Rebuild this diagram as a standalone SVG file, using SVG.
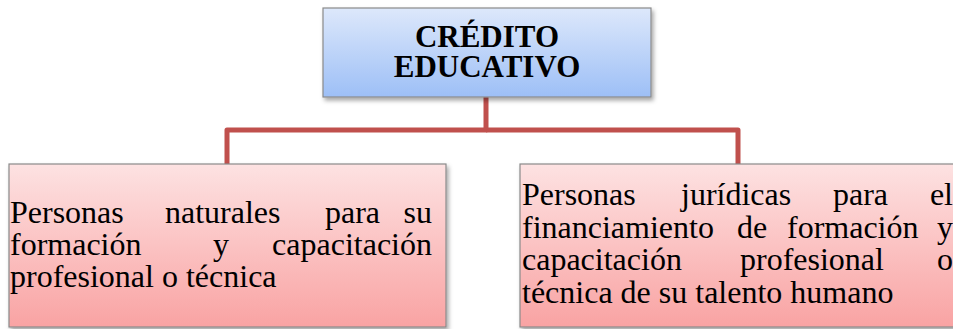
<svg xmlns="http://www.w3.org/2000/svg" width="953" height="329" viewBox="0 0 953 329">
<defs>
<linearGradient id="gBlue" x1="0" y1="0" x2="0" y2="1">
<stop offset="0" stop-color="#dde8fb"/>
<stop offset="1" stop-color="#9dbff6"/>
</linearGradient>
<linearGradient id="gPink" x1="0" y1="0" x2="0" y2="1">
<stop offset="0" stop-color="#fde2e2"/>
<stop offset="1" stop-color="#f9a3a3"/>
</linearGradient>
<filter id="sh" x="-5%" y="-10%" width="115%" height="130%">
<feDropShadow dx="2" dy="3" stdDeviation="2" flood-color="#000" flood-opacity="0.35"/>
</filter>
</defs>
<style>
.box{stroke:#8a8a8a;stroke-width:1.2;filter:url(#sh)}
.title{font-family:"Liberation Serif","Times New Roman",serif;font-weight:bold;font-size:31px;fill:#000;text-anchor:middle}
.t{font-family:"Liberation Serif","Times New Roman",serif;font-size:32px;fill:#000}
.e{text-anchor:end}
.conn{fill:none;stroke:#c0504d;stroke-width:5;stroke-linejoin:round}
</style>
<rect width="953" height="329" fill="#fff"/>
<g id="connectors">
<path class="conn" d="M486 97 V130 H227 V164"/>
<path class="conn" d="M486 130 H738 V164"/>
</g>
<g id="credito">
<rect class="box" x="323" y="8" width="328" height="89" fill="url(#gBlue)" stroke="#6e7f99"/>
<text class="title" x="487" y="47">CRÉDITO</text>
<text class="title" x="487" y="77">EDUCATIVO</text>
</g>
<g id="naturales">
<rect class="box" x="9" y="164" width="437" height="163" fill="url(#gPink)"/>
<text class="t" y="223"><tspan x="10">Personas</tspan><tspan x="165">naturales</tspan><tspan x="325">para</tspan><tspan x="432" class="e">su</tspan></text>
<text class="t" y="255"><tspan x="10">formación</tspan><tspan x="213">y</tspan><tspan x="432" class="e">capacitación</tspan></text>
<text class="t" x="10" y="287">profesional o técnica</text>
</g>
<g id="juridicas">
<rect class="box" x="520" y="164" width="440" height="163" fill="url(#gPink)"/>
<text class="t" y="205"><tspan x="522">Personas</tspan><tspan x="681">jurídicas</tspan><tspan x="833">para</tspan><tspan x="953" class="e">el</tspan></text>
<text class="t" y="238"><tspan x="522">financiamiento</tspan><tspan x="737">de</tspan><tspan x="787">formación</tspan><tspan x="953" class="e">y</tspan></text>
<text class="t" y="270"><tspan x="522">capacitación</tspan><tspan x="740">profesional</tspan><tspan x="953" class="e">o</tspan></text>
<text class="t" x="522" y="303">técnica de su talento humano</text>
</g>
</svg>
